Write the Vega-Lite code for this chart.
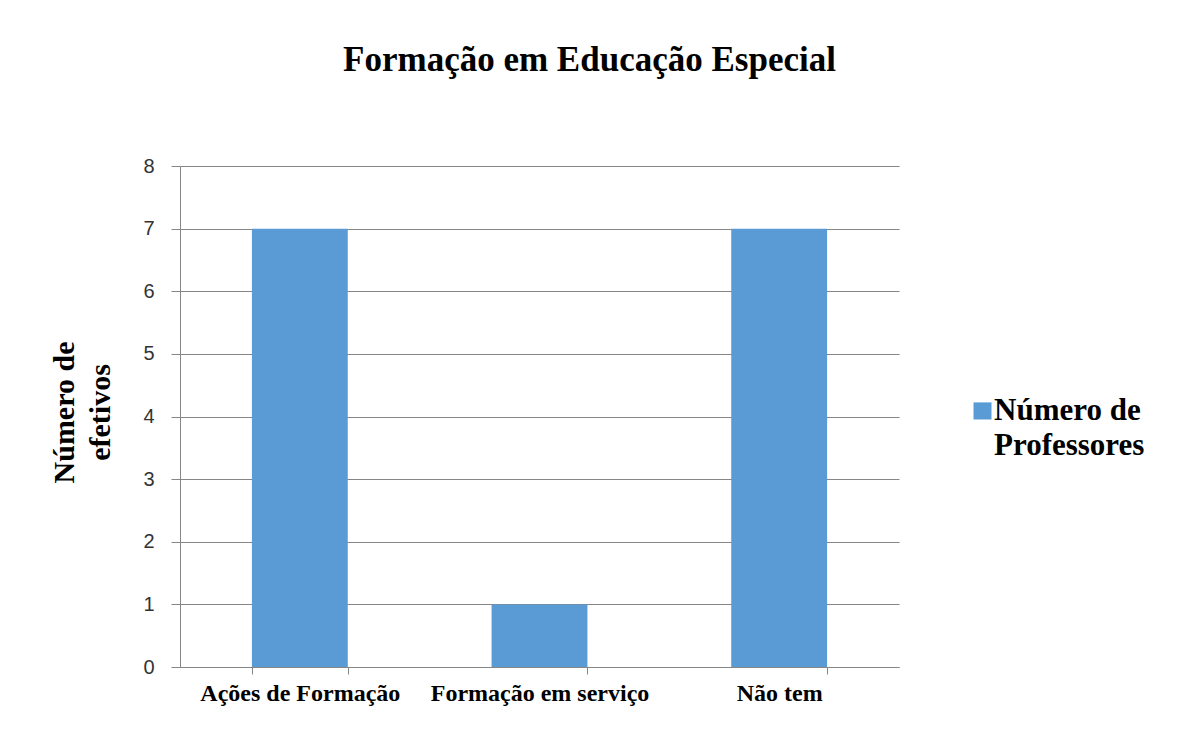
{
  "$schema": "https://vega.github.io/schema/vega-lite/v6.json",
  "width": 719,
  "height": 501,
  "autosize": {"type": "none"},
  "padding": {"left": 180, "top": 166, "right": 298, "bottom": 62},
  "background": "white",
  "title": {
    "text": "Formação em Educação Especial",
    "font": "Liberation Serif",
    "fontSize": 35,
    "fontWeight": "bold",
    "color": "#000000",
    "anchor": "middle",
    "baseline": "alphabetic",
    "offset": 50,
    "dx": 50
  },
  "data": {
    "values": [
      {"categoria": "Ações de Formação", "valor": 7, "serie": "Número de Professores"},
      {"categoria": "Formação em serviço", "valor": 1, "serie": "Número de Professores"},
      {"categoria": "Não tem", "valor": 7, "serie": "Número de Professores"}
    ]
  },
  "mark": {"type": "bar"},
  "encoding": {
    "x": {
      "field": "categoria",
      "type": "nominal",
      "sort": null,
      "scale": {"paddingInner": 0.6, "paddingOuter": 0.3},
      "axis": {
        "title": null,
        "labelAngle": 0,
        "labelFont": "Liberation Serif",
        "labelFontSize": 24,
        "labelFontWeight": "bold",
        "labelColor": "#000000",
        "labelPadding": 7,
        "tickBand": "extent",
        "tickSize": 7,
        "tickColor": "#868686",
        "domainColor": "#868686",
        "grid": false,
        "labelLimit": 300
      }
    },
    "y": {
      "field": "valor",
      "type": "quantitative",
      "scale": {"domain": [0, 8], "nice": false},
      "axis": {
        "title": ["Número de", "efetivos"],
        "titleFont": "Liberation Serif",
        "titleFontSize": 30,
        "titleFontWeight": "bold",
        "titleColor": "#000000",
        "titleLineHeight": 36,
        "titleBaseline": "alphabetic",
        "titleAngle": -90,
        "titleX": -107,
        "titleY": 246,
        "titleAlign": "center",
        "values": [0, 1, 2, 3, 4, 5, 6, 7, 8],
        "labelFont": "Liberation Sans",
        "labelFontSize": 20,
        "labelColor": "#333333",
        "labelPadding": 17,
        "tickSize": 9,
        "tickColor": "#868686",
        "domainColor": "#868686",
        "gridColor": "#868686",
        "grid": true
      }
    },
    "color": {
      "field": "serie",
      "type": "nominal",
      "scale": {"range": ["#5B9BD5"]},
      "legend": {
        "title": null,
        "orient": "none",
        "legendX": 787,
        "legendY": 238,
        "symbolType": "M-1,-1.9H1V0H-1Z",
        "symbolSize": 324,
        "symbolStrokeWidth": 0,
        "labelExpr": "['Número de', 'Professores']",
        "labelFont": "Liberation Serif",
        "labelFontSize": 31,
        "labelFontWeight": "bold",
        "labelColor": "#000000",
        "labelBaseline": "alphabetic",
        "labelOffset": -4,
        "labelLimit": 300
      }
    }
  },
  "config": {
    "view": {"stroke": null},
    "axis": {"domainWidth": 1, "tickWidth": 1, "gridWidth": 1},
    "style": {"guide-label": {"lineHeight": 35}}
  }
}
